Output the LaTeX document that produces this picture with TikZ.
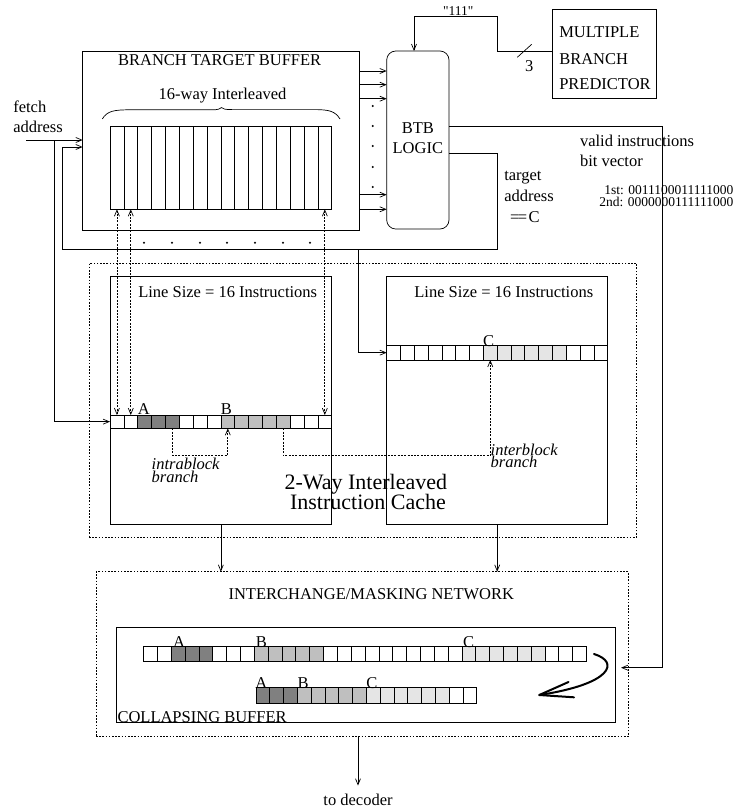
\documentclass[tikz,border=0pt]{standalone}
\usepackage{fontspec}
\setmainfont{Liberation Serif}
\newfontfamily\qfont{Liberation Serif}
\usetikzlibrary{arrows.meta}
\newcommand\mfN{\fontsize{16.5}{18}\selectfont}
\newcommand\mfS{\fontsize{13.5}{15}\selectfont}
\newcommand\mfL{\fontsize{22}{24}\selectfont}
\definecolor{dk}{gray}{0.5}
\definecolor{md}{gray}{0.75}
\definecolor{lt}{gray}{0.9}
\begin{document}
\begin{tikzpicture}[x=1pt,y=-1pt,
 every node/.style={font=\mfN, inner sep=0pt, outer sep=0pt},
 box/.style={draw, line width=0.7pt, anchor=north west},
 dbox/.style={draw, line width=0.9pt, dash pattern=on 1.6pt off 1.6pt, anchor=north west},
 cellbtb/.style={draw, line width=0.7pt, anchor=north west, minimum width=13.86pt, minimum height=83pt},
 cell/.style={draw, line width=0.7pt, anchor=north west, minimum height=#1},
 arr/.style={line width=0.7pt, -{Straight Barb[length=6pt,width=5pt]}},
 dsh/.style={line width=0.7pt, dash pattern=on 2pt off 1.3pt},
 lbl/.style={anchor=base},
 lft/.style={anchor=base west},
]
\useasboundingbox (0,0) rectangle (746,809);

% ---------- boxes ----------
\node[box, minimum width=276.3pt, minimum height=179pt] (btb) at (82.7,51) {};
\node[box, rounded corners=9pt, minimum width=62.3pt, minimum height=178pt] (logic) at (386.7,51) {};
\node[box, minimum width=104.7pt, minimum height=89.4pt] (pred) at (552,9.3) {};
\node[dbox, minimum width=547.7pt, minimum height=274pt] (grp) at (89,263.3) {};
\node[box, minimum width=221.7pt, minimum height=247.3pt] (cacheL) at (110,276.7) {};
\node[box, minimum width=221pt, minimum height=247.3pt] (cacheR) at (386.7,276.7) {};
\node[dbox, minimum width=532.3pt, minimum height=165pt] (net) at (96,571.7) {};
\node[box, minimum width=498.3pt, minimum height=94.6pt] (cb) at (116.7,627.7) {};

% ---------- cells ----------
\foreach \i in {0,...,15}
  \node[cellbtb] (bt\i) at ({110+\i*13.86},126.3) {};
\foreach \i/\f in {0/white,1/white,2/dk,3/dk,4/dk,5/white,6/white,7/white,8/md,9/md,10/md,11/md,12/md,13/white,14/white,15/white}
  \node[cell=13.3pt, minimum width=13.86pt, fill=\f] (lc\i) at ({110+\i*13.86},415) {};
\foreach \i/\f in {0/white,1/white,2/white,3/white,4/white,5/white,6/white,7/lt,8/lt,9/lt,10/lt,11/lt,12/lt,13/white,14/white,15/white}
  \node[cell=14.7pt, minimum width=13.81pt, fill=\f] (rc\i) at ({386.7+\i*13.81},345.3) {};
\foreach \i/\f in {0/white,1/white,2/dk,3/dk,4/dk,5/white,6/white,7/white,8/md,9/md,10/md,11/md,12/md,13/white,14/white,15/white,16/white,17/white,18/white,19/white,20/white,21/white,22/white,23/lt,24/lt,25/lt,26/lt,27/lt,28/lt,29/white,30/white,31/white}
  \node[cell=14.3pt, minimum width=13.84pt, fill=\f] (t\i) at ({143.6+\i*13.84},646.7) {};
\foreach \i/\f in {0/dk,1/dk,2/dk,3/md,4/md,5/md,6/md,7/md,8/lt,9/lt,10/lt,11/lt,12/lt,13/lt,14/white,15/white}
  \node[cell=15.6pt, minimum width=13.8pt, fill=\f] (s\i) at ({256+\i*13.8},687.7) {};

% ---------- texts ----------
\node[lbl] (tbtb) at (219.7,65.7) {BRANCH TARGET BUFFER};
\node[lbl] (t16) at (222.5,99) {16-way Interleaved};
\node[lft] (tfetch) at (13.3,112.5) {fetch};
\node[lft] (taddr) at (13.3,132.7) {address};
\node[lbl] (tbtbl) at (417.8,133.3) {BTB};
\node[lbl] (tlogic) at (417.8,153.3) {LOGIC};
\node[lft] (tp1) at (559.3,37.7) {MULTIPLE};
\node[lft] (tp2) at (559.3,64) {BRANCH};
\node[lft] (tp3) at (559.3,89.3) {PREDICTOR};
\node[lbl, font=\mfS\qfont] (t111) at (458.3,15.5) {"111"};
\node[lbl] (t3) at (529.3,71) {3};
\node[lft] (tv1) at (580,146.7) {valid instructions};
\node[lft] (tv2) at (580,166.7) {bit vector};
\node[anchor=base east, font=\mfS] (tb1) at (733.3,194.3) {1st: 0011100011111000};
\node[anchor=base east, font=\mfS] (tb2) at (733.3,206) {2nd: 0000000111111000};
\node[lft] (tt1) at (504.3,180) {target};
\node[lft] (tt2) at (504.3,201) {address};
\node[lft] (tt3) at (510,222.3) {=\kern-1.5pt=\kern1.5pt C};
\node[lbl] (tls1) at (227.7,297.3) {Line Size = 16 Instructions};
\node[lbl] (tls2) at (503.8,297.3) {Line Size = 16 Instructions};
\node[lbl] (labA1) at (143.8,414.5) {A};
\node[lbl] (labB1) at (226.3,414.5) {B};
\node[lbl] (labC1) at (488.7,346) {C};
\node[lft, font=\mfN\itshape] (tia) at (151.7,469) {intrablock};
\node[lft, font=\mfN\itshape] (tib) at (151.7,482.7) {branch};
\node[lft, font=\mfN\itshape] (tea) at (490.7,455) {interblock};
\node[lft, font=\mfN\itshape] (teb) at (490.7,467.7) {branch};
\node[lbl, font=\mfL] (tw1) at (365.8,489) {2-Way Interleaved};
\node[lbl, font=\mfL] (tw2) at (368,509) {Instruction Cache};
\node[lbl] (tnet) at (371.3,599) {INTERCHANGE/MASKING NETWORK};
\node[lft] (tcb) at (117.5,722.3) {COLLAPSING BUFFER};
\node[lbl] (labA2) at (179,647) {A};
\node[lbl] (labB2) at (261.4,647) {B};
\node[lbl] (labC2) at (468.6,647) {C};
\node[lbl] (labA3) at (261.4,688) {A};
\node[lbl] (labB3) at (303,688) {B};
\node[lbl] (labC3) at (371.8,688) {C};
\node[lbl] (dec) at (358,805) {to decoder};

% ---------- brace ----------
\draw[line width=0.7pt] (102.3,119) .. controls (107,111) and (114,109.8) .. (130,109.8) -- (212,109.8)
  .. controls (218,109.8) and (220,109) .. (221.5,107.6)
  .. controls (223,109) and (225,109.6) .. (232,109.6) -- (314,109.6)
  .. controls (329,109.6) and (335,111) .. (340,119);

% ---------- dots ----------
\foreach \x in {144,172,200,227,255,283,310} \fill (\x,242.7) circle (1.1pt);
\foreach \y in {106,126,146,167,187} \fill (372.7,\y) circle (1.1pt);

% ---------- coordinates ----------
\coordinate (fin) at (26,140);
\coordinate (fj) at (54,140);
\coordinate (ta) at (497,153);
\coordinate (tb) at (497,249.3);
\coordinate (tc) at (62,249.3);
\coordinate (td) at (62,147);
\coordinate (te) at (358.3,249.3);
\coordinate (pa) at (497,51);
\coordinate (pb) at (497,16);
\coordinate (pc) at (414,16);
\coordinate (va) at (662.7,126.7);
\coordinate (vb) at (662.7,667.7);
\coordinate (vc) at (621,667.7);

% ---------- connectors ----------
\draw[arr] (fin) -- (btb.west |- fin);
\draw[arr] (fj) |- (lc0.west);
\draw[arr] (logic.east |- ta) -- (ta) -- (tb) -- (tc) -- (td) -- (btb.west |- td);
\draw[arr] (te) |- (rc0.west);
\draw[arr] (pred.west |- pa) -- (pa) -- (pb) -- (pc) -- (pc |- logic.north);
\draw[line width=0.7pt] (517.3,57.3) -- (531.7,44.3);
\foreach \y in {71,84.7,98.7,194.7,209.3}
  \draw[arr] (btb.east |- 0,\y) -- (logic.west |- 0,\y);
\draw[arr] (logic.east |- va) -- (va) -- (vb) -- (vc);
\foreach \i in {0,1,15}
  \draw[dsh, {Straight Barb[length=6pt,width=5pt]}-{Straight Barb[length=6pt,width=5pt]}] (bt\i.south) -- (lc\i.north);
\draw[dsh, -{Straight Barb[length=6pt,width=5pt]}] (lc4.south) -- ++(0,27) -| (lc8.south);
\draw[dsh, -{Straight Barb[length=6pt,width=5pt]}] (lc12.south) -- ++(0,27.5) -| (rc7.south);
\draw[arr] (cacheL.south) -- (cacheL.south |- net.north);
\draw[arr] (cacheR.south) -- (cacheR.south |- net.north);
\draw[arr] (net.south -| dec) -- ([yshift=8pt]dec.north);

% ---------- collapse arrow ----------
\draw[line width=2pt, line cap=round] (594,654) .. controls (620,662) and (612,684) .. (539.3,695);
\draw[line width=2pt, line cap=round, line join=round] (568.5,682) -- (539.3,695) -- (574,697.3);
\end{tikzpicture}
\end{document}
